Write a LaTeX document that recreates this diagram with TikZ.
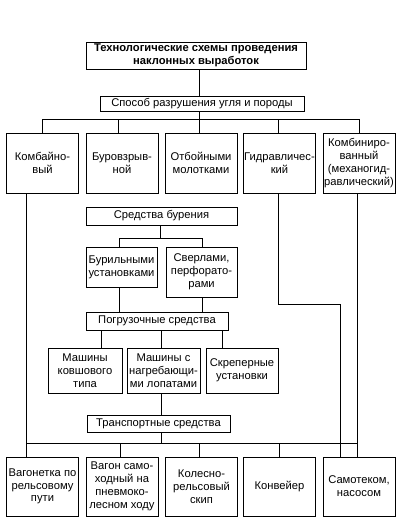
\documentclass[tikz,border=0pt]{standalone}
\usepackage{fontspec}
\setmainfont{Liberation Sans}
\usetikzlibrary{positioning}

\begin{document}
\begin{tikzpicture}[x=1pt,y=-1pt,line width=0.6pt,every node/.style={font=\fontsize{11.2}{12.8}\selectfont},
box/.style={draw, align=center, inner sep=0.5pt},
head/.style={box, minimum width=220pt, minimum height=27pt, font=\bfseries\fontsize{11.2}{13.5}\selectfont},
band/.style={box, minimum height=17pt},
kind/.style={box, minimum width=72pt, minimum height=60pt},
tool/.style={box, minimum width=71pt},
loader/.style={box, minimum width=73pt, minimum height=45pt}]
\useasboundingbox (0,0) rectangle (413,529);
% top
\node[head] (title) at (196,55.5) {Технологические схемы проведения\\наклонных выработок};
\node[band, minimum width=204pt, minimum height=15pt] (way) at (202,103.5) {Способ разрушения угля и породы};
\draw ([xshift=3pt]title.south) -- ([xshift=-3pt]way.north);
\draw ([xshift=-3pt]way.south) -- ++(0,8) coordinate (bus1);
% ways of breaking
\node[kind] (komb) at (42.5,163) {Комбайно-\\вый};
\node[kind] (burov) at (122,163) {Буровзрыв-\\ной};
\node[kind] (otboi) at (201,163) {Отбойными\\молотками};
\node[kind] (gidr) at (279.5,163) {Гидравличес-\\кий};
\node[kind] (kombin) at (359,163) {Комбиниро-\\ванный\\(механогид-\\равлический)};
\draw (komb.north) |- (bus1) -| (kombin.north);
\draw ([xshift=-4pt]burov.north) -- ++(0,-14);
\draw ([xshift=-2pt]otboi.north) -- ++(0,-14);
\draw ([xshift=-1.5pt]gidr.north) -- ++(0,-14);
% drilling
\node[band, minimum width=151pt, minimum height=18pt] (drill) at (161.5,216) {Средства бурения};
\node[tool, minimum height=40pt] (rig) at (121.5,267) {Бурильными\\установками};
\node[tool, minimum height=50pt] (bore) at (201.5,272) {Сверлами,\\перфорато-\\рами};
\draw ([xshift=-1.5pt]drill.south) -- ++(0,13) coordinate (fork);
\draw ([xshift=-2.5pt]rig.north) |- (fork) -| ([xshift=0.5pt]bore.north);
% loading
\node[band, minimum width=142pt, minimum height=18pt] (load) at (157,321) {Погрузочные средства};
\draw ([xshift=-2.5pt]rig.south) -- ([xshift=-38pt]load.north);
\draw ([xshift=0.5pt]bore.south) -- ([xshift=45pt]load.north);
\node[loader, minimum width=74pt] (bucket) at (85,370.5) {Машины\\ковшового\\типа};
\node[loader] (gather) at (163.5,370.5) {Машины с\\нагребающи-\\ми лопатами};
\node[loader, minimum width=72pt] (scraper) at (242,370.5) {Скреперные\\установки};
\draw ([xshift=-56pt]load.south) -- ([xshift=16pt]bucket.north);
\draw ([xshift=4pt]load.south) -- ([xshift=-2.5pt]gather.north);
\draw ([xshift=65pt]load.south) -- ([xshift=-20pt]scraper.north);
% transport
\node[band, minimum width=143pt] (trans) at (158.5,423.5) {Транспортные средства};
\draw ([xshift=-2.5pt]gather.south) -- ([xshift=2.5pt]trans.north);
\draw ([xshift=2.5pt]trans.south) -- ++(0,11) coordinate (bus2);
\node[kind, minimum height=59pt] (cart) at (42.5,486.5) {Вагонетка по\\рельсовому\\пути};
\node[kind, minimum height=59pt] (wagon) at (122,486.5) {Вагон само-\\ходный на\\пневмоко-\\лесном ходу};
\node[kind, minimum height=59pt] (skip) at (201.5,486.5) {Колесно-\\рельсовый\\скип};
\node[kind, minimum height=59pt] (conv) at (279.5,486.5) {Конвейер};
\node[kind, minimum height=59pt] (flow) at (359,486.5) {Самотеком,\\насосом};
\draw ([xshift=-16.5pt]komb.south) -- ([xshift=-16.5pt]cart.north);
\draw ([xshift=-16.5pt]cart.north) |- (bus2) -| ([xshift=-2pt]kombin.south);
\draw ([xshift=-2pt]wagon.north) -- ++(0,-14);
\draw ([xshift=-2.5pt]skip.north) -- ++(0,-14);
\draw ([xshift=-0.5pt]conv.north) -- ++(0,-14);
\draw ([xshift=-2pt]flow.north) -- ++(0,-14);
\draw ([xshift=-1.5pt]gidr.south) -- ++(0,111) -| ([xshift=-19pt]flow.north);
\end{tikzpicture}
\end{document}
